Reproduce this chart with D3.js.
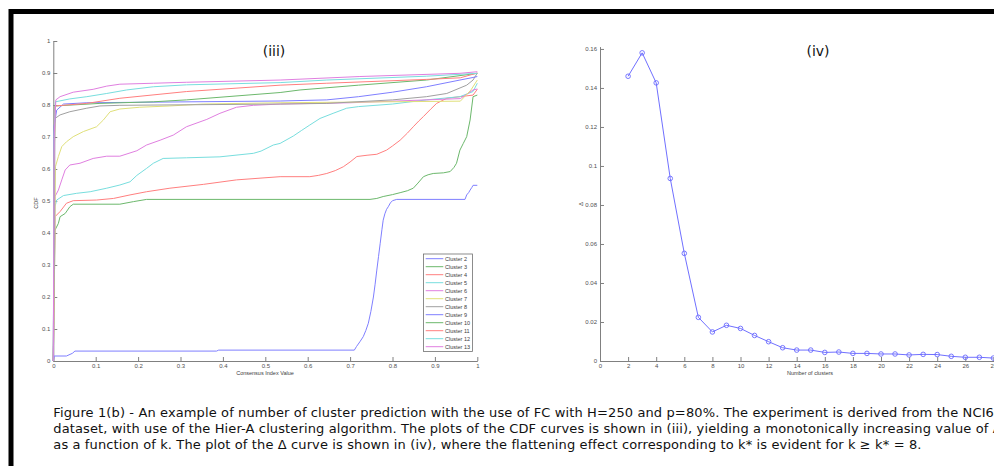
<!DOCTYPE html>
<html>
<head>
<meta charset="utf-8">
<script src="https://d3js.org/d3.v7.min.js"></script>
<style>
  html, body { margin: 0; padding: 0; background: #fff; overflow: hidden; }
  svg { display: block; }
</style>
</head>
<body>
<div id="chart"></div>
<script>
// CDF curves: [consensus index, CDF]
const cdfCluster2 = [[0,0],[0.002,0.0156],[0.031,0.0156],[0.045,0.024],[0.051,0.031],[0.385,0.031],[0.39,0.034],[0.71,0.034],[0.715,0.045],[0.723,0.06],[0.731,0.076],[0.737,0.095],[0.743,0.118],[0.749,0.155],[0.755,0.2],[0.759,0.24],[0.763,0.284],[0.767,0.326],[0.771,0.368],[0.775,0.41],[0.778,0.44],[0.782,0.46],[0.786,0.474],[0.79,0.482],[0.795,0.494],[0.8,0.501],[0.81,0.505],[0.971,0.505],[0.975,0.519],[0.98,0.527],[0.983,0.534],[0.987,0.542],[0.99,0.549],[1,0.549]];
const cdfCluster3 = [[0,0],[0.003,0.3],[0.004,0.409],[0.012,0.43],[0.016,0.451],[0.028,0.461],[0.039,0.482],[0.047,0.49],[0.157,0.49],[0.189,0.498],[0.22,0.505],[0.747,0.505],[0.763,0.508],[0.778,0.514],[0.8,0.52],[0.818,0.526],[0.835,0.532],[0.849,0.54],[0.86,0.556],[0.873,0.576],[0.884,0.582],[0.896,0.586],[0.92,0.588],[0.936,0.592],[0.945,0.605],[0.951,0.618],[0.959,0.659],[0.967,0.68],[0.975,0.701],[0.983,0.753],[0.99,0.826],[1,0.831]];
const cdfCluster4 = [[0,0],[0.003,0.35],[0.004,0.451],[0.016,0.467],[0.031,0.493],[0.047,0.501],[0.102,0.503],[0.142,0.508],[0.181,0.519],[0.22,0.529],[0.275,0.54],[0.354,0.552],[0.432,0.566],[0.535,0.576],[0.605,0.576],[0.625,0.58],[0.645,0.586],[0.665,0.595],[0.684,0.607],[0.7,0.622],[0.716,0.639],[0.74,0.643],[0.763,0.646],[0.786,0.659],[0.8,0.672],[0.818,0.69],[0.835,0.712],[0.849,0.732],[0.862,0.75],[0.873,0.764],[0.89,0.787],[0.904,0.805],[0.928,0.821],[0.959,0.826],[0.99,0.831],[1,0.849]];
const cdfCluster5 = [[0,0],[0.003,0.4],[0.004,0.482],[0.008,0.503],[0.024,0.517],[0.055,0.524],[0.087,0.529],[0.126,0.54],[0.157,0.55],[0.181,0.56],[0.197,0.58],[0.22,0.602],[0.236,0.618],[0.259,0.633],[0.314,0.635],[0.393,0.638],[0.472,0.649],[0.49,0.656],[0.519,0.675],[0.535,0.68],[0.566,0.703],[0.585,0.72],[0.605,0.7375],[0.629,0.758],[0.66,0.774],[0.692,0.79],[0.72,0.795],[0.8,0.803],[0.88,0.816],[0.959,0.826],[0.99,0.842],[1,0.868]];
const cdfCluster6 = [[0,0],[0.003,0.3],[0.004,0.514],[0.012,0.534],[0.02,0.566],[0.028,0.597],[0.039,0.6125],[0.063,0.618],[0.094,0.633],[0.126,0.64],[0.157,0.64],[0.197,0.657],[0.22,0.675],[0.252,0.69],[0.283,0.706],[0.314,0.732],[0.362,0.755],[0.393,0.774],[0.432,0.793],[0.472,0.799],[0.535,0.803],[0.7,0.807],[0.96,0.82],[0.99,0.847],[1,0.85]];
const cdfCluster7 = [[0,0],[0.003,0.3],[0.005,0.607],[0.012,0.639],[0.02,0.67],[0.031,0.685],[0.047,0.701],[0.071,0.717],[0.102,0.732],[0.118,0.753],[0.134,0.779],[0.157,0.7875],[0.204,0.793],[0.275,0.797],[0.354,0.803],[0.535,0.807],[0.96,0.812],[0.985,0.847],[1,0.878]];
const cdfCluster8 = [[0,0],[0.003,0.5],[0.004,0.758],[0.016,0.769],[0.039,0.779],[0.079,0.79],[0.11,0.797],[0.157,0.799],[0.535,0.803],[0.645,0.805],[0.8,0.816],[0.88,0.826],[0.928,0.836],[0.975,0.862],[0.99,0.878],[1,0.9]];
const cdfCluster9 = [[0,0],[0.002,0.735],[0.008,0.784],[0.024,0.803],[0.079,0.807],[0.535,0.8125],[0.645,0.816],[0.72,0.826],[0.8,0.84],[0.88,0.857],[0.959,0.878],[0.99,0.886],[1,0.889]];
const cdfCluster10 = [[0,0],[0.002,0.6],[0.004,0.797],[0.11,0.805],[0.236,0.81],[0.314,0.816],[0.535,0.839],[0.582,0.847],[0.72,0.862],[0.88,0.878],[1,0.899]];
const cdfCluster11 = [[0,0],[0.002,0.6],[0.004,0.797],[0.079,0.805],[0.157,0.821],[0.314,0.842],[0.535,0.862],[0.645,0.868],[0.88,0.88],[0.96,0.885],[1,0.9]];
const cdfCluster12 = [[0,0],[0.002,0.7],[0.005,0.81],[0.039,0.819],[0.079,0.826],[0.126,0.836],[0.173,0.847],[0.236,0.857],[0.314,0.863],[0.535,0.87],[0.645,0.878],[0.88,0.89],[1,0.899]];
const cdfCluster13 = [[0,0],[0.002,0.7],[0.006,0.816],[0.016,0.826],[0.047,0.84],[0.094,0.849],[0.126,0.859],[0.157,0.865],[0.236,0.868],[0.314,0.871],[0.535,0.878],[0.723,0.889],[0.959,0.899],[1,0.904]];

const clusterNames = ["Cluster 2","Cluster 3","Cluster 4","Cluster 5","Cluster 6","Cluster 7","Cluster 8","Cluster 9","Cluster 10","Cluster 11","Cluster 12","Cluster 13"];
const clusterCurves = [cdfCluster2, cdfCluster3, cdfCluster4, cdfCluster5, cdfCluster6, cdfCluster7, cdfCluster8, cdfCluster9, cdfCluster10, cdfCluster11, cdfCluster12, cdfCluster13];
// matlab default line order, washed out like the picture
const clusterColors = ["#7f7fff","#6cb86c","#ff7f7f","#78dede","#e07fe0","#e0e07a","#a0a0a0","#7f7fff","#6cb86c","#ff7f7f","#78dede","#e07fe0"];

// delta curve
const kValues = [2,3,4,5,6,7,8,9,10,11,12,13,14,15,16,17,18,19,20,21,22,23,24,25,26,27,28];
const deltaValues = [0.146,0.158,0.1426,0.0936,0.0552,0.0224,0.0149,0.0183,0.0167,0.0131,0.0099,0.0068,0.0056,0.0056,0.0044,0.0046,0.0039,0.0039,0.0036,0.0036,0.0031,0.0034,0.0033,0.0024,0.0019,0.0019,0.0015];

const cdfTicks = [0,0.1,0.2,0.3,0.4,0.5,0.6,0.7,0.8,0.9,1];
const deltaTicks = [0,0.02,0.04,0.06,0.08,0.1,0.12,0.14,0.16];
const kTicks = [0,2,4,6,8,10,12,14,16,18,20,22,24,26,28];

const captionLines = [
  "Figure 1(b) - An example of number of cluster prediction with the use of FC with H=250 and p=80%. The experiment is derived from the NCI60",
  "dataset, with use of the Hier-A clustering algorithm. The plots of the CDF curves is shown in (iii), yielding a monotonically increasing value of A",
  "as a function of k. The plot of the \u0394 curve is shown in (iv), where the flattening effect corresponding to k* is evident for k \u2265 k* = 8."
];

const W = 994, H = 466;
const axisColor = "#808080";
const tickFont = "'Liberation Sans', Arial, sans-serif";

const svg = d3.select("#chart").append("svg")
    .attr("width", W)
    .attr("height", H);

svg.append("rect").attr("width", W).attr("height", H).attr("fill", "#fff");

// thick frame, runs off the right and bottom edges
svg.append("rect")
    .attr("x", 11).attr("y", 11.5)
    .attr("width", 1200).attr("height", 800)
    .attr("fill", "none")
    .attr("stroke", "#000")
    .attr("stroke-width", 5);

function styleAxis(g) {
    g.select(".domain").attr("stroke", axisColor);
    g.selectAll(".tick line").attr("stroke", axisColor);
    g.selectAll(".tick text")
        .attr("fill", "#505050")
        .style("font-family", tickFont)
        .style("font-size", "6px");
}

const fmt = d => String(+d.toFixed(2));

// ---------- (iii) CDF plot ----------
const x1 = d3.scaleLinear().domain([0, 1]).range([53.3, 477.3]);
const y1 = d3.scaleLinear().domain([0, 1]).range([361, 41]);

svg.append("g")
    .attr("transform", "translate(0,361)")
    .call(d3.axisBottom(x1).tickValues(cdfTicks).tickFormat(fmt).tickSizeInner(-4).tickSizeOuter(0).tickPadding(3))
    .call(styleAxis);

svg.append("g")
    .attr("transform", "translate(53.3,0)")
    .call(d3.axisLeft(y1).tickValues(cdfTicks).tickFormat(fmt).tickSizeInner(-4).tickSizeOuter(0).tickPadding(3))
    .call(styleAxis);

const cdfLine = d3.line().x(d => x1(d[0])).y(d => y1(d[1]));

svg.append("g")
    .selectAll("path")
    .data(clusterCurves)
    .join("path")
    .attr("d", cdfLine)
    .attr("fill", "none")
    .attr("stroke", (d, i) => clusterColors[i])
    .attr("stroke-width", 1);

svg.append("text")
    .attr("transform", "translate(38,203) rotate(-90)")
    .attr("text-anchor", "middle")
    .style("font-family", tickFont)
    .style("font-size", "5.5px")
    .attr("fill", "#404040")
    .text("CDF");

svg.append("text")
    .attr("x", 265).attr("y", 375)
    .attr("text-anchor", "middle")
    .style("font-family", tickFont)
    .style("font-size", "5.5px")
    .attr("fill", "#404040")
    .text("Consensus Index Value");

svg.append("text")
    .attr("x", 274).attr("y", 55.5)
    .attr("text-anchor", "middle")
    .style("font-family", "'DejaVu Sans', Verdana, sans-serif")
    .style("font-size", "14px")
    .attr("fill", "#111")
    .text("(iii)");

// legend
const legend = svg.append("g");
legend.append("rect")
    .attr("x", 423.5).attr("y", 254)
    .attr("width", 49).attr("height", 97.5)
    .attr("fill", "#fff")
    .attr("stroke", "#707070")
    .attr("stroke-width", 0.8);

const legendRows = legend.selectAll("g.row")
    .data(clusterNames)
    .join("g")
    .attr("class", "row")
    .attr("transform", (d, i) => `translate(0,${258.7 + i * 8})`);

legendRows.append("line")
    .attr("x1", 425.7).attr("x2", 443.3)
    .attr("stroke", (d, i) => clusterColors[i])
    .attr("stroke-width", 1);

legendRows.append("text")
    .attr("x", 445)
    .attr("dy", "0.35em")
    .style("font-family", tickFont)
    .style("font-size", "5.5px")
    .attr("fill", "#404040")
    .text(d => d);

// ---------- (iv) delta plot ----------
const x2 = d3.scaleLinear().domain([0, 30]).range([600, 600 + 30 * 14.05]);
const y2 = d3.scaleLinear().domain([0, 0.1612]).range([361, 46.6]);

svg.append("g")
    .attr("transform", "translate(0,361)")
    .call(d3.axisBottom(x2).tickValues(kTicks).tickFormat(fmt).tickSizeInner(-4).tickSizeOuter(0).tickPadding(3))
    .call(styleAxis);

svg.append("g")
    .attr("transform", "translate(600,0)")
    .call(d3.axisLeft(y2).tickValues(deltaTicks).tickFormat(fmt).tickSizeInner(-4).tickSizeOuter(0).tickPadding(3))
    .call(styleAxis);

const deltaPts = kValues.map((k, i) => [k, deltaValues[i]]);

svg.append("path")
    .datum(deltaPts)
    .attr("d", d3.line().x(d => x2(d[0])).y(d => y2(d[1])))
    .attr("fill", "none")
    .attr("stroke", "#7070ff")
    .attr("stroke-width", 1);

svg.append("g")
    .selectAll("circle")
    .data(deltaPts)
    .join("circle")
    .attr("cx", d => x2(d[0]))
    .attr("cy", d => y2(d[1]))
    .attr("r", 2.3)
    .attr("fill", "none")
    .attr("stroke", "#6a6aff")
    .attr("stroke-width", 0.9);

svg.append("text")
    .attr("transform", "translate(583,204) rotate(-90)")
    .attr("text-anchor", "middle")
    .style("font-family", tickFont)
    .style("font-size", "6px")
    .attr("fill", "#404040")
    .text("\u0394");

svg.append("text")
    .attr("x", 810).attr("y", 375)
    .attr("text-anchor", "middle")
    .style("font-family", tickFont)
    .style("font-size", "5.5px")
    .attr("fill", "#404040")
    .text("Number of clusters");

svg.append("text")
    .attr("x", 818).attr("y", 55.5)
    .attr("text-anchor", "middle")
    .style("font-family", "'DejaVu Sans', Verdana, sans-serif")
    .style("font-size", "14px")
    .attr("fill", "#111")
    .text("(iv)");

// ---------- caption ----------
svg.append("g")
    .selectAll("text")
    .data(captionLines)
    .join("text")
    .attr("x", 53.3)
    .attr("y", (d, i) => 417.3 + i * 16)
    .style("font-family", "'DejaVu Sans', Verdana, sans-serif")
    .style("font-size", "13px")
    .style("letter-spacing", "0.12px")
    .attr("fill", "#111")
    .text(d => d);
</script>
</body>
</html>
